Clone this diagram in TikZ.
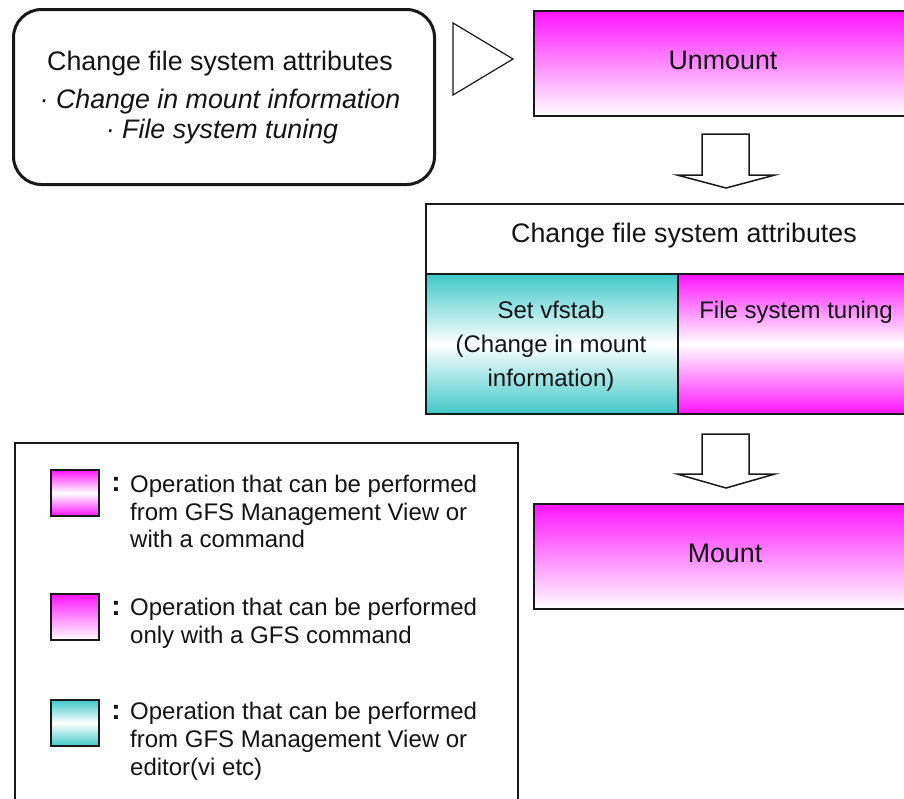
\documentclass[tikz,border=0pt]{standalone}
\usepackage{fontspec}
\setmainfont{Liberation Sans}
\usetikzlibrary{calc}
\definecolor{mag}{RGB}{255,20,255}
\definecolor{tealc}{RGB}{64,200,200}
\definecolor{ln}{RGB}{25,25,25}
\definecolor{txt}{RGB}{20,20,20}
\begin{document}
\begin{tikzpicture}[x=1pt,y=-1pt,
  box/.style={draw=ln, line width=2pt, rectangle, inner sep=0pt, anchor=north west},
  magfade/.style={shading=axis, top color=mag, bottom color=white},
  magband/.style={shading=axis, top color=mag, bottom color=mag, middle color=white},
  tealband/.style={shading=axis, top color=tealc, bottom color=tealc, middle color=white},
  bigtxt/.style={text=txt, inner sep=0pt, font=\fontsize{26.8}{34}\selectfont},
  celltxt/.style={text=txt, inner sep=0pt, anchor=north, align=center, font=\fontsize{24}{34}\selectfont},
  legtxt/.style={text=txt, inner sep=0pt, anchor=north west, align=left, font=\fontsize{24}{27.7}\selectfont},
  colontxt/.style={text=txt, inner sep=0pt, font=\bfseries\fontsize{28}{28}\selectfont},
  swatch/.style={draw=ln, line width=2pt, minimum width=48pt, minimum height=46pt, inner sep=0pt, anchor=north west},
  blockarrow/.style={draw=ln, line width=1.5pt, fill=white, line join=miter}
]
\useasboundingbox (0,0) rectangle (904,798);
\clip (0,0) rectangle (904,798);
\fill[white] (0,0) rectangle (904,798);

% top-left rounded box
\node[draw=ln, line width=3pt, rounded corners=28pt, minimum width=421pt, minimum height=175pt, anchor=north west] (attr) at (12,8) {};
\node[bigtxt] (attr1) at (220,64) {Change file system attributes};
\node[bigtxt] (attr2) at (220,102) {\textit{·~Change in mount information}};
\node[bigtxt] (attr3) at (222,132) {\textit{·~File system tuning}};

% triangle
\coordinate (t1) at (453,23);
\coordinate (t2) at (513,59);
\coordinate (t3) at (453,95);
\draw[ln, line width=1.2pt] (t1) -- (t2) -- (t3) -- cycle;

% Unmount
\node[box, magfade, minimum width=380pt, minimum height=105pt] (unmount) at (533,10) {};
\node[bigtxt] (unmounttxt) at (723,60) {Unmount};

% arrow 1
\draw[blockarrow] (702,134) -- (749,134) -- (749,175) -- (775,175) -- (726,188) -- (677,175) -- (702,175) -- cycle;

% change attributes box
\node[box, fill=white, minimum width=500pt, minimum height=70pt] (mid) at (425,203) {};
\node[bigtxt] (midtxt) at (684,236) {Change file system attributes};
\node[box, tealband, minimum width=252pt, minimum height=140pt] (vfs) at (425,273) {};
\node[box, magband, minimum width=250pt, minimum height=140pt] (tune) at (677,273) {};
\node[celltxt] (vfstxt) at (551,301) {Set vfstab\\(Change in mount\\information)};
\node[celltxt] (tunetxt) at (796,301) {File system tuning};

% arrow 2
\draw[blockarrow] (702,434) -- (749,434) -- (749,474) -- (775,474) -- (726,488) -- (677,474) -- (702,474) -- cycle;

% Mount
\node[box, magfade, minimum width=384pt, minimum height=105pt] (mount) at (533,503) {};
\node[bigtxt] (mounttxt) at (725,553) {Mount};

% legend
\node[draw=ln, line width=2pt, minimum width=503pt, minimum height=400pt, anchor=north west, inner sep=0pt] (legend) at (14,442) {};
\node[swatch, magband] (sw1) at (50,469) {};
\node[swatch, magfade] (sw2) at (50,593) {};
\node[swatch, tealband] (sw3) at (50,699) {};
\node[colontxt] (c1) at (116,484) {:};
\node[colontxt] (c2) at (116,608) {:};
\node[colontxt] (c3) at (116,712) {:};
\node[legtxt] (l1) at (130,475) {Operation that can be performed\\from GFS Management View or\\with a command};
\node[legtxt] (l2) at (130,598) {Operation that can be performed\\only with a GFS command};
\node[legtxt] (l3) at (130,702) {Operation that can be performed\\from GFS Management View or\\editor(vi etc)};
\end{tikzpicture}
\end{document}
